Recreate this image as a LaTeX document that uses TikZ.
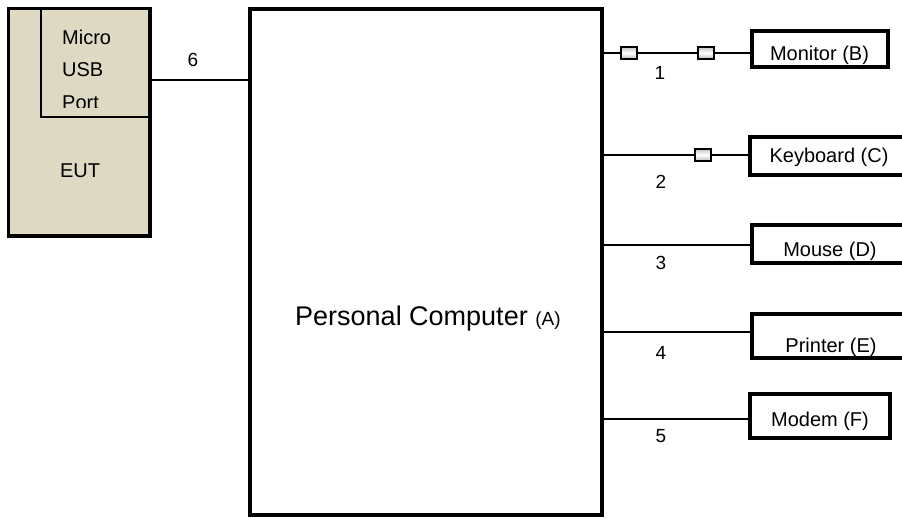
\documentclass[tikz,border=0pt]{standalone}
\usepackage{fontspec}
\setmainfont{Liberation Sans}
\definecolor{eutfill}{HTML}{DDD9C3}
\newcommand{\lblfont}{\fontsize{20}{24}\selectfont}
\newcommand{\numfont}{\fontsize{19}{22}\selectfont}
\begin{document}
\begin{tikzpicture}[x=1pt,y=-1pt,
  box/.style={draw=black, line width=3.5pt, inner sep=0pt, fill=white},
  wire/.style={draw=black, line width=2.8pt},
  plug/.style={draw=black, line width=2.8pt, inner sep=0pt, minimum width=16, minimum height=12,
               top color=gray!45, bottom color=gray!55, middle color=white},
  txt/.style={inner sep=0pt, font=\lblfont},
  num/.style={inner sep=0pt, font=\numfont}]
\useasboundingbox (0,0) rectangle (902,519);
\clip (0,0) rectangle (902,519);

% equipment under test with its micro USB port
\node[box, fill=eutfill, minimum width=141.5, minimum height=227.5] (eut) at (79.25,122.25) {};
\node[draw=black, line width=1.6pt, inner sep=0pt, minimum width=109, minimum height=108.5] (usb) at (95.5,62.75) {};
\node[txt, anchor=base west] (micro) at (62,45) {Micro};
\node[txt, anchor=base west] (usbtxt) at (62,77) {USB};
\begin{scope}
  \clip (41,8) rectangle (150,107);
  \node[txt, anchor=base west] (port) at (62,109) {Port};
\end{scope}
\node[txt] (eutlbl) at (80,171) {EUT};

% personal computer
\node[box, minimum width=352, minimum height=506] (pc) at (426,262) {};
\node[inner sep=0pt, anchor=base west] (pclbl) at (295,325)
  {\fontsize{27}{32}\selectfont Personal Computer \fontsize{19}{22}\selectfont(A)};

% cable 6 to the EUT
\draw[wire] (eut.east |- 0,80) -- (pc.west |- 0,80);
\node[num] (n6) at (193,60) {6};

% peripherals
\node[box, minimum width=136, minimum height=36] (mon) at (820,49) {};
\node[box, minimum width=155, minimum height=38] (kbd) at (827.5,156) {};
\node[box, minimum width=153, minimum height=38] (mouse) at (828.5,244) {};
\node[box, minimum width=153, minimum height=44] (prn) at (828.5,336) {};
\node[box, minimum width=140, minimum height=44] (modem) at (820,416) {};

\node[txt, anchor=base] (montxt) at (819.5,61) {Monitor (B)};
\node[txt, anchor=base] (kbdtxt) at (829,162) {Keyboard (C)};
\node[txt, anchor=base] (mousetxt) at (830,256) {Mouse (D)};
\node[txt, anchor=base] (prntxt) at (831,352) {Printer (E)};
\node[txt, anchor=base] (modemtxt) at (820,426) {Modem (F)};

% cables with ferrite cores
\draw[wire] (pc.east |- 0,53) -- (mon.west |- 0,53);
\draw[wire] (pc.east |- 0,155) -- (kbd.west |- 0,155);
\draw[wire] (pc.east |- 0,245) -- (mouse.west |- 0,245);
\draw[wire] (pc.east |- 0,332) -- (prn.west |- 0,332);
\draw[wire] (pc.east |- 0,419) -- (modem.west |- 0,419);

\node[plug] (core1a) at (629,53) {};
\node[plug] (core1b) at (706,53) {};
\node[plug] (core2) at (703,155) {};

\node[num] (n1) at (660,73) {1};
\node[num] (n2) at (661,182) {2};
\node[num] (n3) at (661,263) {3};
\node[num] (n4) at (661,353) {4};
\node[num] (n5) at (661,436) {5};
\end{tikzpicture}
\end{document}
